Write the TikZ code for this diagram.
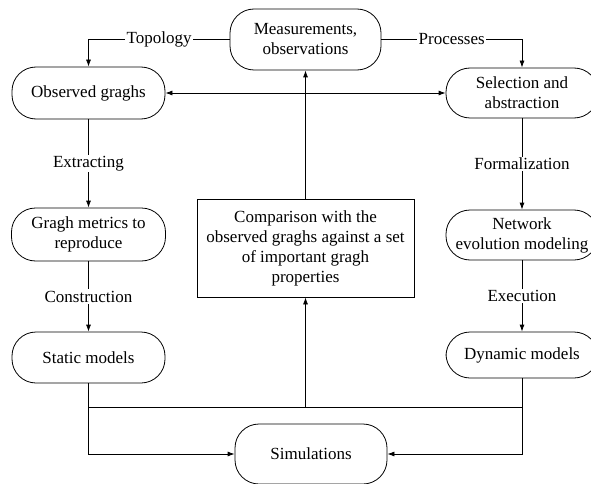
\documentclass[tikz,border=0pt]{standalone}
\usepackage{fontspec}
\setmainfont{Liberation Serif}
\newfontfamily\tmsfont{Liberation Serif}
\usetikzlibrary{arrows.meta}
\begin{document}
\begin{tikzpicture}[x=1pt,y=-1pt,
  font=\tmsfont\fontsize{17}{20}\selectfont,
  term/.style={draw,line width=0.8pt,rounded corners=24pt,align=center,inner sep=1pt},
  boxnode/.style={draw,line width=0.8pt,align=center,inner sep=1pt},
  lab/.style={fill=white,inner sep=1.5pt},
  arr/.style={line width=0.8pt,-{Latex[length=7pt,width=5pt]}},
  ln/.style={line width=0.8pt}]
\useasboundingbox (0,0) rectangle (591,484);
\node[term,minimum width=151pt,minimum height=61pt] (meas) at (305.5,39.5) {Measurements,\\observations};
\node[term,minimum width=153pt,minimum height=52pt] (obs) at (88.5,93) {Observed graghs};
\node[term,minimum width=152pt,minimum height=50pt] (sel) at (522,93) {Selection and\\abstraction};
\node[term,minimum width=154pt,minimum height=53pt] (metr) at (88.5,234.5) {Gragh metrics to\\reproduce};
\node[term,minimum width=152pt,minimum height=50pt] (net) at (522,235) {Network\\evolution modeling};
\node[term,minimum width=153pt,minimum height=51pt] (stat) at (88.5,357.5) {Static models};
\node[term,minimum width=152pt,minimum height=46pt] (dyn) at (522,355) {Dynamic models};
\node[term,minimum width=152pt,minimum height=60pt] (sim) at (311,454) {Simulations};
\node[boxnode,minimum width=217pt,minimum height=98pt] (comp) at (305.5,248) {Comparison with the\\observed graghs against a set\\of important gragh\\properties};
\coordinate (bus) at (305.5,407);

\draw[arr] (meas.west) -| node[lab,pos=0.25]{Topology} (obs.north);
\draw[arr] (meas.east) -| node[lab,pos=0.25]{Processes} (sel.north);
\draw[line width=0.8pt,{Latex[length=7pt,width=5pt]}-{Latex[length=7pt,width=5pt]}] (obs.east) -- (sel.west);
\draw[arr] (obs) -- node[lab]{Extracting} (metr);
\draw[arr] (metr) -- node[lab]{Construction} (stat);
\draw[arr] (sel) -- node[lab]{Formalization} (net);
\draw[arr] (net) -- node[lab]{Execution} (dyn);
\draw[arr] (comp.north) -- (meas.south);
\draw[ln] (stat.south |- bus) -- (dyn.south |- bus);
\draw[arr] (bus) -- (comp.south);
\draw[arr] (stat.south) |- (sim.west);
\draw[arr] (dyn.south) |- (sim.east);
\end{tikzpicture}
\end{document}
